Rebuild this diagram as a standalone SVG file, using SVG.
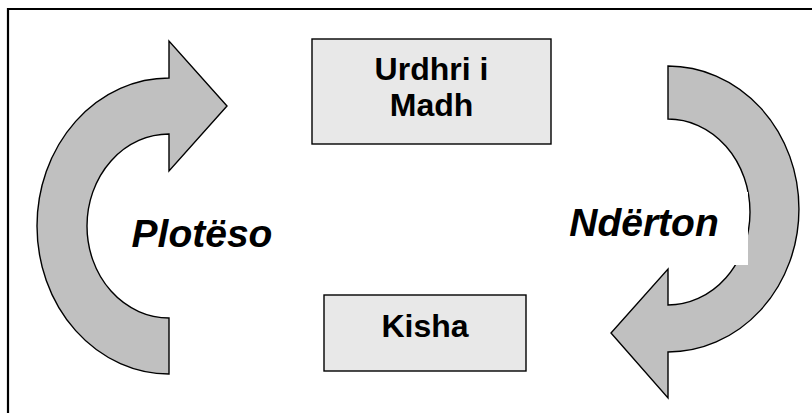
<svg xmlns="http://www.w3.org/2000/svg" width="812" height="413" viewBox="0 0 812 413">
<style>
.frame{fill:none;stroke:#000;stroke-width:2.2}
.arrow{fill:#c0c0c0;stroke:#000;stroke-width:1.4;stroke-linejoin:miter}
.box{fill:#e8e8e8;stroke:#000;stroke-width:1.4}
.lbl{font-family:"Liberation Sans",Arial,sans-serif;font-weight:bold;font-size:32px;fill:#000;text-anchor:middle}
.verb{font-family:"Liberation Sans",Arial,sans-serif;font-weight:bold;font-style:italic;font-size:39px;fill:#000;text-anchor:middle}
</style>
<rect x="0" y="0" width="812" height="413" fill="#fff"/>
<path class="frame" d="M8,413 L8,9 L812,9"/>
<g id="connectors">
<g id="arrow-left">
<path class="arrow" d="M169,374 A132,148 0 0 1 169,78 L169,41 L227,106 L169,171 L169,134 A82,92 0 0 0 169,318 Z"/>
</g>
<g id="arrow-right">
<path class="arrow" d="M668,66 A131,143 0 0 1 668,352 L668,398 L611,333 L668,269 L668,305 A82,93 0 0 0 668,119 Z"/>
<rect x="560" y="192" width="188" height="73" fill="#fff"/>
</g>
</g>
<g id="node-urdhri">
<rect class="box" x="312" y="39" width="239" height="105"/>
<text class="lbl" x="431.5" y="80">Urdhri i</text>
<text class="lbl" x="431.5" y="116">Madh</text>
</g>
<g id="node-kisha">
<rect class="box" x="324" y="295" width="202" height="76"/>
<text class="lbl" x="425" y="337">Kisha</text>
</g>
<g id="label-plotes">
<text class="verb" x="202" y="247">Plotëso</text>
</g>
<g id="label-nderton">
<text class="verb" x="644" y="236">Ndërton</text>
</g>
</svg>
